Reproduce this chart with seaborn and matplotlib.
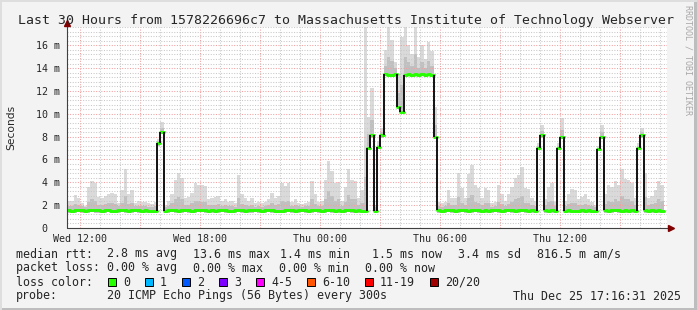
import numpy as np
import pandas as pd
import matplotlib
matplotlib.use("Agg")
import matplotlib.pyplot as plt
from matplotlib.patches import Rectangle
from matplotlib.ticker import MultipleLocator, FuncFormatter
import seaborn as sns

sns.set_style("white")
plt.rcParams['font.family'] = ['DejaVu Sans Mono', 'DejaVu Sans']

# ---------------- data (10-minute steps, hours since Wed 00:00) ----------------
START_H = 11.35
STEP_H = 1 / 6
SPAN_H = 30

median = [
    1.55, 1.5, 1.55, 1.6, 1.55, 1.5, 1.55, 1.6, 1.6, 1.55,
    1.5, 1.55, 1.6, 1.5, 1.45, 1.55, 1.6, 1.55, 1.5, 1.55,
    1.6, 1.55, 1.5, 1.55, 1.5, 1.45, 1.5,
    7.4, 8.4,
    1.5, 1.55, 1.6, 1.55, 1.5, 1.55, 1.6, 1.55, 1.5, 1.55,
    1.6, 1.6, 1.55, 1.5, 1.55, 1.5, 1.55, 1.6, 1.55, 1.5,
    1.5, 1.55, 1.6, 1.55, 1.5, 1.55, 1.55, 1.6, 1.55, 1.5,
    1.55, 1.6, 1.55, 1.5, 1.45, 1.5, 1.55, 1.6, 1.55, 1.5,
    1.55, 1.6, 1.55, 1.5, 1.55, 1.6, 1.55, 1.5, 1.55, 1.6,
    1.55, 1.5, 1.55, 1.5, 1.55, 1.6, 1.55, 1.5, 1.55, 1.5,
    1.5,
    7.0, 8.1, 1.5, 7.1, 8.1, 13.5, 13.4, 13.4, 13.45, 10.6,
    10.2, 13.4, 13.5, 13.4, 13.5, 13.4, 13.5, 13.4, 13.5, 13.4,
    8.0,
    1.55, 1.5, 1.55, 1.6, 1.55, 1.5, 1.55, 1.6, 1.55, 1.5,
    1.55, 1.6, 1.55, 1.5, 1.55, 1.5, 1.55, 1.6, 1.55, 1.5,
    1.55, 1.6, 1.55, 1.5, 1.55, 1.6, 1.55, 1.5, 1.55, 1.5,
    7.0, 8.1,
    1.55, 1.5, 1.55, 1.5,
    7.0, 8.0,
    1.5, 1.55, 1.5, 1.45, 1.5, 1.55, 1.5, 1.55, 1.5, 1.5,
    6.9, 8.0,
    1.55, 1.5, 1.55, 1.6, 1.55, 1.5, 1.55, 1.5, 1.55, 1.5,
    7.0, 8.1,
    1.55, 1.5, 1.55, 1.5, 1.55, 1.5,
]

smoke_hi = [
    2.4, 2.4, 2.9, 2.6, 2.2, 1.9, 3.6, 4.1, 3.9, 2.7,
    2.6, 2.8, 3.0, 3.1, 3.0, 2.2, 3.3, 5.2, 3.0, 3.3,
    2.2, 2.4, 2.3, 2.3, 2.2, 2.1, 2.3,
    7.8, 9.3,
    2.0, 2.4, 3.0, 4.2, 4.8, 4.4, 2.6, 2.7, 3.1, 3.9,
    3.8, 3.8, 3.7, 2.5, 2.6, 2.7, 2.8, 2.4, 2.5, 2.3,
    2.4, 2.2, 4.6, 3.0, 2.6, 2.4, 2.6, 2.2, 2.3, 2.2,
    2.3, 2.5, 3.1, 2.6, 2.8, 3.9, 3.7, 3.9, 2.3, 2.5,
    2.2, 2.1, 2.2, 2.3, 4.1, 3.0, 2.3, 2.4, 4.2, 5.9,
    5.0, 3.9, 4.0, 2.4, 3.6, 5.2, 4.2, 4.1, 2.6, 3.3,
    17.6,
    9.7, 12.3, 2.0, 7.6, 8.8, 15.6, 17.6, 16.5, 14.5, 13.5,
    16.7, 17.6, 16.0, 15.2, 17.6, 15.0, 16.0, 14.8, 16.3, 15.5,
    10.6,
    2.3, 2.2, 2.3, 3.3, 2.6, 2.6, 4.8, 3.5, 2.6, 4.7,
    5.5, 3.8, 3.5, 2.6, 3.5, 3.3, 2.2, 2.3, 3.8, 3.0,
    2.4, 3.0, 3.6, 4.4, 4.6, 5.3, 3.5, 3.4, 2.6, 2.4,
    7.4, 9.0,
    2.5, 3.6, 3.9, 2.3,
    7.4, 9.6,
    2.4, 3.0, 3.4, 3.3, 2.5, 2.7, 3.0, 2.5, 2.3, 2.0,
    7.2, 9.0,
    3.0, 3.8, 3.6, 4.1, 3.8, 5.2, 4.3, 4.2, 3.9, 2.6,
    7.4, 8.8,
    4.8, 2.6, 2.8, 3.3, 4.1, 3.8,
]

smoke_mid = [
    1.9, 1.9, 2.1, 2.0, 1.9, 1.8, 2.3, 2.5, 2.4, 2.0,
    2.0, 2.1, 2.2, 2.2, 2.1, 1.9, 2.2, 2.8, 2.1, 2.2,
    1.9, 1.9, 1.9, 1.9, 1.8, 1.8, 1.9,
    7.6, 8.8,
    1.8, 1.9, 2.2, 2.5, 2.7, 2.5, 2.0, 2.0, 2.2, 2.4,
    2.4, 2.3, 2.3, 2.0, 2.0, 2.0, 2.1, 1.9, 2.0, 1.9,
    1.9, 1.8, 2.6, 2.1, 2.0, 1.9, 2.0, 1.8, 1.9, 1.8,
    1.9, 2.0, 2.2, 2.0, 2.1, 2.4, 2.3, 2.4, 1.9, 2.0,
    1.9, 1.8, 1.9, 1.9, 2.5, 2.1, 1.9, 1.9, 2.5, 3.2,
    2.8, 2.4, 2.5, 1.9, 2.3, 2.9, 2.5, 2.5, 2.0, 2.2,
    4.5,
    8.2, 9.5, 1.8, 7.3, 8.4, 14.2, 15.0, 14.6, 14.0, 11.8,
    12.5, 15.0, 14.5, 14.2, 15.2, 14.0, 14.5, 14.0, 14.6, 14.2,
    9.0,
    1.9, 1.8, 1.9, 2.2, 2.0, 2.0, 2.7, 2.2, 2.0, 2.6,
    2.9, 2.3, 2.2, 2.0, 2.2, 2.2, 1.8, 1.9, 2.3, 2.1,
    1.9, 2.1, 2.3, 2.5, 2.6, 2.8, 2.2, 2.2, 2.0, 1.9,
    7.2, 8.5,
    2.0, 2.3, 2.4, 1.9,
    7.2, 8.6,
    1.9, 2.1, 2.2, 2.2, 2.0, 2.0, 2.1, 2.0, 1.9, 1.8,
    7.0, 8.4,
    2.1, 2.4, 2.3, 2.5, 2.4, 2.8, 2.5, 2.5, 2.4, 2.0,
    7.2, 8.4,
    2.7, 2.0, 2.1, 2.2, 2.5, 2.4,
]

smoke_lo = [
    1.35, 1.3, 1.35, 1.4, 1.35, 1.3, 1.35, 1.4, 1.35, 1.35,
    1.3, 1.35, 1.4, 1.3, 1.3, 1.35, 1.4, 1.35, 1.3, 1.35,
    1.4, 1.35, 1.3, 1.35, 1.3, 1.3, 1.3,
    7.2, 8.2,
    1.3, 1.35, 1.4, 1.35, 1.3, 1.35, 1.4, 1.35, 1.3, 1.35,
    1.4, 1.4, 1.35, 1.3, 1.35, 1.3, 1.35, 1.4, 1.35, 1.3,
    1.3, 1.35, 1.4, 1.35, 1.3, 1.35, 1.35, 1.4, 1.35, 1.3,
    1.35, 1.4, 1.35, 1.3, 1.3, 1.3, 1.35, 1.4, 1.35, 1.3,
    1.35, 1.4, 1.35, 1.3, 1.35, 1.4, 1.35, 1.3, 1.35, 1.4,
    1.35, 1.3, 1.35, 1.3, 1.35, 1.4, 1.35, 1.3, 1.35, 1.3,
    1.35,
    6.9, 7.9, 1.3, 6.9, 7.9, 13.3, 13.25, 13.25, 13.3, 10.4,
    10.0, 13.25, 13.3, 13.25, 13.3, 13.25, 13.3, 13.25, 13.3, 13.25,
    7.8,
    1.35, 1.3, 1.35, 1.4, 1.35, 1.3, 1.35, 1.4, 1.35, 1.3,
    1.35, 1.4, 1.35, 1.3, 1.35, 1.3, 1.35, 1.4, 1.35, 1.3,
    1.35, 1.4, 1.35, 1.3, 1.35, 1.4, 1.35, 1.3, 1.35, 1.3,
    6.8, 7.9,
    1.35, 1.3, 1.35, 1.3,
    6.8, 7.8,
    1.3, 1.35, 1.3, 1.3, 1.3, 1.35, 1.3, 1.35, 1.3, 1.3,
    6.7, 7.8,
    1.35, 1.3, 1.35, 1.4, 1.35, 1.3, 1.35, 1.3, 1.35, 1.3,
    6.8, 7.9,
    1.35, 1.3, 1.35, 1.3, 1.35, 1.3,
]

assert len(median) == len(smoke_hi) == len(smoke_mid) == len(smoke_lo)

title = "Last 30 Hours from 1578226696c7 to Massachusetts Institute of Technology Webserver"
x_tick_labels = {12: "Wed 12:00", 18: "Wed 18:00", 24: "Thu 00:00", 30: "Thu 06:00", 36: "Thu 12:00"}
y_max = 17.6
y_label = "Seconds"
side_text = "RRDTOOL / TOBI OETIKER"

legend_row1 = [("median rtt:", 16), ("2.8 ms avg", 107), ("13.6 ms max", 193), ("1.4 ms min", 280),
               ("1.5 ms now", 372), ("3.4 ms sd", 458), ("816.5 m am/s", 537)]
legend_row2 = [("packet loss:", 16), ("0.00 % avg", 107), ("0.00 % max", 193), ("0.00 % min", 279),
               ("0.00 % now", 365)]
loss_labels = ["0", "1", "2", "3", "4-5", "6-10", "11-19", "20/20"]
loss_colors = ["#26ff00", "#00b8ff", "#0059ff", "#7e00ff", "#ff00ff", "#ff5500", "#ff0000", "#a10000"]
loss_box_x = [108, 145, 182, 219, 256, 307, 365, 430]
probe_text = "20 ICMP Echo Pings (56 Bytes) every 300s"
date_text = "Thu Dec 25 17:16:31 2025"

# ---------------- figure ----------------
W, H = 697, 310
fig = plt.figure(figsize=(W / 100, H / 100), dpi=100, facecolor="#f3f3f3")


def fx(x):
    return x / W


def fy(y):
    return 1 - y / H


# 3D-ish border
fig.add_artist(Rectangle((0, 0), 1, 2 / H, transform=fig.transFigure, color="#bdbdbd", lw=0))
fig.add_artist(Rectangle((1 - 3 / W, 0), 3 / W, 1, transform=fig.transFigure, color="#bdbdbd", lw=0))
fig.add_artist(Rectangle((0, 1 - 2 / H), 1, 2 / H, transform=fig.transFigure, color="#dedede", lw=0))
fig.add_artist(Rectangle((0, 0), 2 / W, 1, transform=fig.transFigure, color="#dedede", lw=0))

ax = fig.add_axes([fx(67), fy(228), 600 / W, 201 / H])
ax.set_facecolor("white")

n = len(median)
t = START_H + np.arange(n) * STEP_H
t_edges = np.append(t, t[-1] + STEP_H)


def ext(a):
    return np.append(np.asarray(a, dtype=float), a[-1])


ax.fill_between(t_edges, ext(smoke_lo), ext(smoke_hi), step="post", color="#dadada", lw=0, zorder=1)
ax.fill_between(t_edges, ext(smoke_lo), ext(smoke_mid), step="post", color="#c0c0c0", lw=0, zorder=1.1)

# median line: green step runs, split where the level jumps; black risers at jumps
med = np.asarray(median, dtype=float)
jump = np.abs(np.diff(med)) > 0.3
run_id = np.concatenate([[0], np.cumsum(jump)])
rows = []
for r in np.unique(run_id):
    idx = np.where(run_id == r)[0]
    for i in idx:
        rows.append((r, t[i], med[i]))
    rows.append((r, t[idx[-1]] + STEP_H, med[idx[-1]]))
runs = pd.DataFrame(rows, columns=["run", "t", "rtt"])
sns.lineplot(data=runs, x="t", y="rtt", units="run", estimator=None, ax=ax, drawstyle="steps-post",
             color=loss_colors[0], lw=2.1, zorder=3, legend=False)

rise_x = t[1:][jump]
rise_lo = np.minimum(med[:-1], med[1:])[jump]
rise_hi = np.maximum(med[:-1], med[1:])[jump]
ax.vlines(rise_x, rise_lo, rise_hi, colors="#111111", lw=1.4, zorder=4)

ax.set_xlim(START_H, START_H + SPAN_H)
ax.set_ylim(0, y_max)
ax.set_xlabel("")
ax.set_ylabel("")

ax.xaxis.set_major_locator(MultipleLocator(3))
ax.xaxis.set_minor_locator(MultipleLocator(1))
ax.yaxis.set_major_locator(MultipleLocator(2))
ax.yaxis.set_minor_locator(MultipleLocator(0.4))
ax.xaxis.set_major_formatter(FuncFormatter(lambda v, p: x_tick_labels.get(int(round(v)), "")))
ax.yaxis.set_major_formatter(FuncFormatter(lambda v, p: "0  " if abs(v) < 1e-9 else f"{int(round(v))} m"))

ax.set_axisbelow(False)
ax.grid(which="major", color="#f2a0a0", linestyle=(0, (1, 1.5)), lw=0.75)
ax.grid(which="minor", color="#c8c8c8", linestyle=(0, (1, 1.5)), lw=0.75)

ax.tick_params(which="major", axis="both", direction="inout", length=4, width=0.7, color="#404040",
               labelsize=7.2)
ax.tick_params(which="major", axis="x", pad=2.5)
ax.tick_params(which="major", axis="y", pad=3.2)
ax.tick_params(which="minor", length=0)
for lbl in ax.get_xticklabels() + ax.get_yticklabels():
    lbl.set_family("DejaVu Sans Mono")

for s in ax.spines.values():
    s.set_visible(False)

# axes with arrows
ax.plot([0, 0], [0, 1.018], transform=ax.transAxes, color="#404040", lw=0.8, clip_on=False, zorder=5)
ax.plot([0, 1.004], [0, 0], transform=ax.transAxes, color="#404040", lw=0.8, clip_on=False, zorder=5)
ax.plot([0], [1.018], marker="^", ms=4.5, color="#800000", transform=ax.transAxes, clip_on=False, zorder=6)
ax.plot([1.007], [0], marker=">", ms=4.5, color="#800000", transform=ax.transAxes, clip_on=False, zorder=6)

# texts
fig.text(fx(346.5), fy(24), title, ha="center", va="baseline", fontsize=9.5, family="DejaVu Sans Mono")
fig.text(fx(11), fy(127.5), y_label, rotation=90, ha="center", va="center", fontsize=7.7,
         family="DejaVu Sans")
fig.text(fx(688), fy(5), side_text, rotation=270, ha="center", va="top", fontsize=6,
         family="DejaVu Sans Mono", color="#a8a8a8")

LEG_FS = 8.37
for txt, x in legend_row1:
    fig.text(fx(x), fy(257.5), txt, ha="left", va="baseline", fontsize=LEG_FS, family="DejaVu Sans Mono")
for txt, x in legend_row2:
    fig.text(fx(x), fy(271.5), txt, ha="left", va="baseline", fontsize=LEG_FS, family="DejaVu Sans Mono")
fig.text(fx(16), fy(285.5), "loss color:", ha="left", va="baseline", fontsize=LEG_FS,
         family="DejaVu Sans Mono")
for lab, col, bx in zip(loss_labels, loss_colors, loss_box_x):
    fig.add_artist(Rectangle((fx(bx), fy(286)), 8 / W, 8 / H, transform=fig.transFigure,
                             facecolor=col, edgecolor="black", lw=0.7))
    fig.text(fx(bx + 15), fy(285.5), lab, ha="left", va="baseline", fontsize=LEG_FS,
             family="DejaVu Sans Mono")
fig.text(fx(16), fy(299.5), "probe:", ha="left", va="baseline", fontsize=LEG_FS, family="DejaVu Sans Mono")
fig.text(fx(107), fy(299.5), probe_text, ha="left", va="baseline", fontsize=LEG_FS,
         family="DejaVu Sans Mono")
fig.text(fx(681), fy(299.5), date_text, ha="right", va="baseline", fontsize=LEG_FS,
         family="DejaVu Sans Mono")

fig.savefig("out.png", dpi=100, facecolor=fig.get_facecolor())
